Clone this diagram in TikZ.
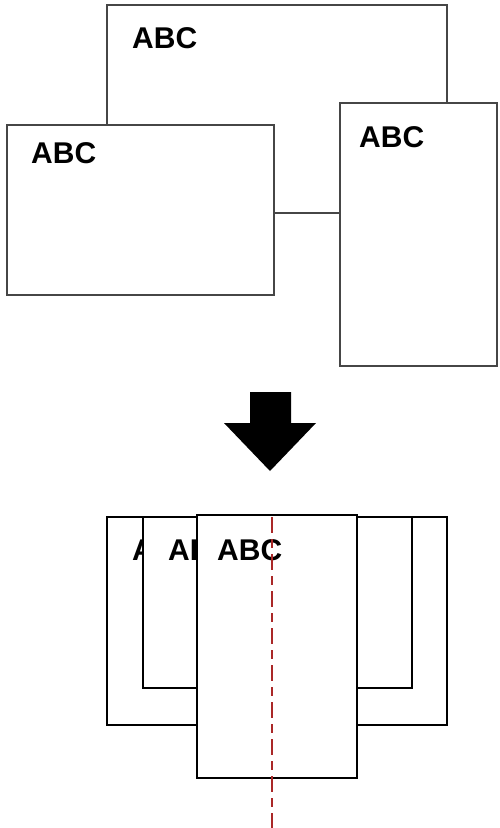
\documentclass[tikz,border=0pt]{standalone}
\usepackage{fontspec}
\setmainfont{Liberation Sans}
\usepackage{xcolor}
\definecolor{edgegray}{RGB}{70,70,70}
\definecolor{axisred}{RGB}{170,40,40}
\tikzset{
  sheet/.style={draw=edgegray, fill=white, line width=2pt},
  flatsheet/.style={draw=black, fill=white, line width=1.5pt},
  tag/.style={font=\bfseries\fontsize{30}{30}\selectfont, anchor=base west, inner sep=0pt}
}

\begin{document}
\begin{tikzpicture}[x=1pt,y=-1pt]
  \useasboundingbox (0,0) rectangle (499,828);
  % spread layout
  \draw[sheet] (107,5) rectangle (447,213);
  \node[tag] (tagback) at (132,48) {ABC};
  \draw[sheet] (7,125) rectangle (274,295);
  \node[tag] (tagleft) at (31,163) {ABC};
  \draw[sheet] (340,103) rectangle (497,366);
  \node[tag] (tagright) at (359,147) {ABC};
  % arrow
  \fill[black] (250,392) -- (291,392) -- (291,423) -- (316,423) -- (270,471)
    -- (224,423) -- (250,423) -- cycle;
  % stacked layout
  \draw[flatsheet] (107,517) rectangle (447,725);
  \node[tag] (tagouter) at (132,560) {ABC};
  \draw[flatsheet] (143,517) rectangle (412,688);
  \node[tag] (tagmiddle) at (168,560) {ABC};
  \draw[flatsheet] (197,515) rectangle (357,778);
  \node[tag] (tagfront) at (217,560) {ABC};
  \coordinate (axistop) at (272,517);
  \coordinate (axisbottom) at (272,828);
  \draw[axisred, line width=1.3pt, dash pattern=on 16pt off 6pt on 9pt off 6pt] (axistop) -- (axisbottom);
\end{tikzpicture}
\end{document}
